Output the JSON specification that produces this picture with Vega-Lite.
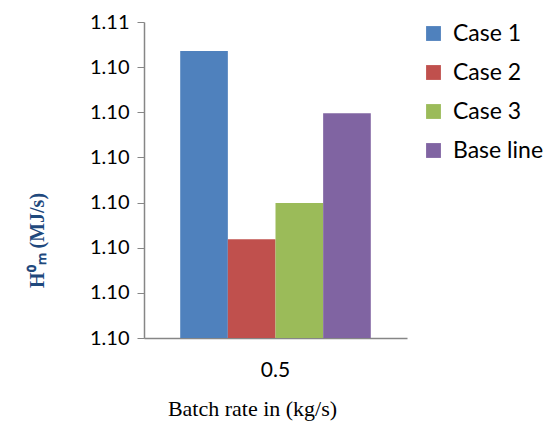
{
  "$schema": "https://vega.github.io/schema/vega-lite/v6.json",
  "width": 263,
  "height": 316,
  "padding": {"left": 27, "top": 12, "right": 0, "bottom": 5},
  "background": "white",
  "data": {
    "values": [
      {"rate": "0.5", "series": "Case 1", "value": 1.10536},
      {"rate": "0.5", "series": "Case 2", "value": 1.10119},
      {"rate": "0.5", "series": "Case 3", "value": 1.10199},
      {"rate": "0.5", "series": "Base line", "value": 1.10398}
    ]
  },
  "mark": {"type": "bar", "clip": true},
  "encoding": {
    "x": {
      "field": "rate",
      "type": "nominal",
      "scale": {"paddingInner": 0, "paddingOuter": 0.19},
      "axis": {
        "title": "Batch rate in (kg/s)",
        "titleFont": "Liberation Serif",
        "titleFontSize": 22,
        "titleFontWeight": "normal",
        "titleColor": "#000000",
        "titlePadding": 18,
        "titleX": 108,
        "titleAlign": "center",
        "labelAngle": 0,
        "labelFont": "Lato",
        "labelFontSize": 21,
        "labelColor": "#000000",
        "labelPadding": 21,
        "ticks": false,
        "domainColor": "#868686",
        "domainWidth": 1.5
      }
    },
    "xOffset": {
      "field": "series",
      "type": "nominal",
      "sort": ["Case 1", "Case 2", "Case 3", "Base line"],
      "scale": {"paddingInner": 0, "paddingOuter": 0}
    },
    "y": {
      "field": "value",
      "type": "quantitative",
      "scale": {"domain": [1.099, 1.106], "zero": false, "nice": false},
      "axis": {
        "values": [1.099, 1.1, 1.101, 1.102, 1.103, 1.104, 1.105, 1.106],
        "format": ".2f",
        "grid": false,
        "title": "H⁰ₘ  (MJ/s)",
        "titleFont": "Liberation Serif",
        "titleFontSize": 20,
        "titleFontWeight": "bold",
        "titleColor": "#1F497D",
        "titleY": 218,
        "titlePadding": 42,
        "labelFont": "Lato",
        "labelFontSize": 20,
        "labelColor": "#000000",
        "labelPadding": 8,
        "tickSize": 7,
        "tickColor": "#868686",
        "domainColor": "#868686",
        "domainWidth": 1.5
      }
    },
    "color": {
      "field": "series",
      "type": "nominal",
      "sort": ["Case 1", "Case 2", "Case 3", "Base line"],
      "scale": {
        "domain": ["Case 1", "Case 2", "Case 3", "Base line"],
        "range": ["#4F81BD", "#C0504D", "#9BBB59", "#8064A2"]
      },
      "legend": {
        "title": null,
        "orient": "right",
        "offset": 15,
        "symbolType": "square",
        "symbolSize": 220,
        "symbolStrokeWidth": 0,
        "labelFont": "Lato",
        "labelFontSize": 23,
        "labelColor": "#000000",
        "rowPadding": 15,
        "labelOffset": 8
      }
    }
  },
  "config": {"view": {"stroke": null}}
}
